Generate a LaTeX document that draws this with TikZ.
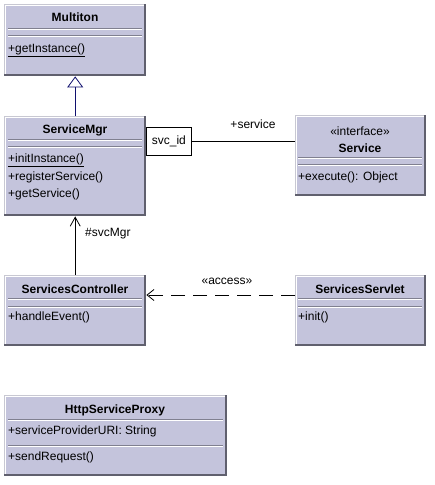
\documentclass[tikz,border=0pt]{standalone}
\usepackage{fontspec}
\setmainfont{Liberation Sans}
\usetikzlibrary{arrows.meta}
\definecolor{clsfill}{RGB}{196,196,220}
\definecolor{framelight}{RGB}{200,200,210}
\definecolor{framedark}{RGB}{96,96,110}
\definecolor{sepgray}{RGB}{128,128,144}
\definecolor{gennavy}{RGB}{16,16,110}
\tikzset{
  clsbox/.style={rectangle, fill=clsfill, draw=none, inner sep=0pt, anchor=north west},
  cname/.style={font=\fontsize{12}{14}\selectfont\bfseries, inner sep=0pt},
  member/.style={font=\fontsize{12}{14}\selectfont, inner sep=0pt, anchor=mid west},
  plain/.style={font=\fontsize{12}{14}\selectfont, inner sep=0pt},
  qualbox/.style={rectangle, draw=black, fill=white, line width=0.8pt, inner sep=0pt, anchor=north west, font=\fontsize{12}{14}\selectfont},
  assocline/.style={draw=black, line width=0.8pt},
  genline/.style={draw=gennavy, line width=0.8pt},
}
\newcommand\umlframe[1]{%
  \draw[framelight, line width=1pt] ([shift={(0.5pt,0.5pt)}]#1.south west) -- ([shift={(0.5pt,-0.5pt)}]#1.north west) -- ([shift={(-0.5pt,-0.5pt)}]#1.north east);
  \draw[white, line width=0.8pt] ([shift={(1.6pt,1.5pt)}]#1.south west) -- ([shift={(1.6pt,-1.6pt)}]#1.north west) -- ([shift={(-1.5pt,-1.6pt)}]#1.north east);
  \draw[framedark, line width=2pt] ([shift={(-1pt,0pt)}]#1.north east) -- ([shift={(-1pt,1pt)}]#1.south east) -- ([shift={(0pt,1pt)}]#1.south west);
}
\newcommand\sepl[3]{%
  \draw[sepgray, line width=1pt] (#1,#3) -- (#2,#3);
  \draw[white, line width=1pt] (#1,#3+1) -- (#2,#3+1);
}
\begin{document}
\begin{tikzpicture}[x=1pt,y=-1pt]
\useasboundingbox[fill=white] (0,0) rectangle (435,485);

% Multiton
\node[clsbox, minimum width=142pt, minimum height=72pt] (multiton) at (4,4) {};
\umlframe{multiton}
\node[cname] (multitonname) at (75,17) {Multiton};
\sepl{8}{142}{28.5}
\sepl{8}{142}{35.5}
\node[member] (getinst) at (8,50) {\underline{+getInstance()}};

% ServiceMgr
\node[clsbox, minimum width=142pt, minimum height=100pt] (servicemgr) at (4,116) {};
\umlframe{servicemgr}
\node[cname] (servicemgrname) at (75,130) {ServiceMgr};
\sepl{8}{142}{139}
\sepl{8}{142}{146.5}
\node[member] (initinst) at (8,160) {\underline{+initInstance()}};
\node[member] (regsvc) at (8,177.5) {+registerService()};
\node[member] (getsvc) at (8,195) {+getService()};

% qualifier
\node[qualbox, minimum width=45pt, minimum height=28pt] (svcid) at (146,126.5) {svc\_id};

% Service
\node[clsbox, minimum width=131pt, minimum height=81pt] (service) at (295,115) {};
\umlframe{service}
\node[plain] (servicestereo) at (360,131) {«interface»};
\node[cname] (servicename) at (360,148) {Service};
\sepl{298}{422}{157}
\sepl{298}{422}{164.5}
\node[member] (execute) at (298,178) {+execute(): Object};

% ServicesController
\node[clsbox, minimum width=142pt, minimum height=71pt] (controller) at (4,275) {};
\umlframe{controller}
\node[cname] (controllername) at (75,289) {ServicesController};
\sepl{8}{142}{298}
\sepl{8}{142}{306.5}
\node[member] (handle) at (8,318) {+handleEvent()};

% ServicesServlet
\node[clsbox, minimum width=131pt, minimum height=71pt] (servlet) at (295,275) {};
\umlframe{servlet}
\node[cname] (servletname) at (360,289) {ServicesServlet};
\sepl{298}{422}{298}
\sepl{298}{422}{306.5}
\node[member] (initm) at (298,318) {+init()};

% HttpServiceProxy
\node[clsbox, minimum width=223pt, minimum height=81pt] (proxy) at (4,395) {};
\umlframe{proxy}
\node[cname] (proxyname) at (115,410) {HttpServiceProxy};
\sepl{8}{223}{419}
\node[member] (proxyattr) at (8,431.5) {+serviceProviderURI: String};
\sepl{8}{223}{445}
\node[member] (sendreq) at (8,458) {+sendRequest()};

% connectors
\draw[genline, -{Triangle[open, length=11pt, width=16pt, line width=0.8pt]}] (servicemgr.north) -- (multiton.south);
\draw[assocline] (svcid.east) -- (service.west |- svcid.east);
\node[plain] (lblservice) at (253,124) {+service};
\draw[assocline, -{Straight Barb[length=9pt, width=10pt, line width=0.8pt]}] (controller.north) -- (servicemgr.south);
\node[plain, anchor=west] (lblsvcmgr) at (85,234) {\#svcMgr};
\coordinate (dashy) at (0,295);
\draw[assocline, dash pattern=on 14pt off 8pt, -{Straight Barb[length=7pt, width=11pt, line width=0.8pt]}] (servlet.west |- dashy) -- (controller.east |- dashy);
\node[plain] (lblaccess) at (227,281) {«access»};
\end{tikzpicture}
\end{document}
